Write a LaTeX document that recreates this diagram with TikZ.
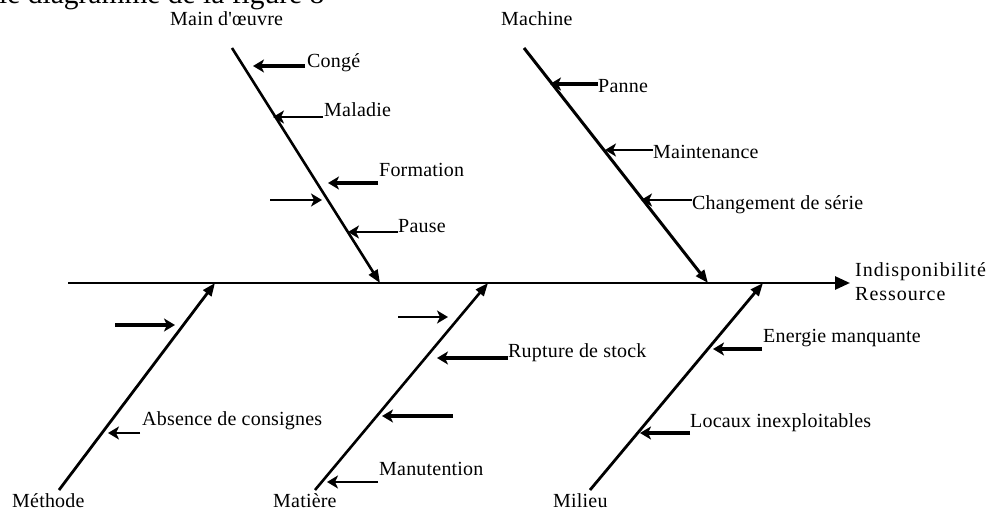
\documentclass[tikz,border=0pt]{standalone}
\usepackage{fontspec}
\setmainfont{Liberation Serif}
\newfontfamily\lblfont[LetterSpace=1]{Liberation Serif}
\newfontfamily\effectfont[LetterSpace=5]{Liberation Serif}
\usetikzlibrary{arrows.meta}
\tikzset{
  lbl/.style={font=\lblfont\fontsize{20}{23}\selectfont, inner sep=0pt, anchor=base west},
  effect/.style={font=\effectfont\fontsize{20}{23}\selectfont, inner sep=0pt, anchor=base west},
  spine/.style={line width=2.7pt, -{Triangle[length=15pt,width=13pt]}},
  bone/.style={line width=2.6pt, -{Triangle[length=13pt,width=10pt]}},
  twig/.style={-{Stealth[length=11pt,width=13pt,inset=3pt]}},
  twigthin/.style={twig, line width=1.8pt},
  twigmid/.style={twig, line width=2.5pt},
  twigbold/.style={twig, line width=3.2pt}
}
\begin{document}
\begin{tikzpicture}[x=1pt,y=-1pt]
  \useasboundingbox (0,0) rectangle (990,510);
  \clip (0,0) rectangle (990,510);
  \fill[white] (0,0) rectangle (990,510);

  % caption line running off the top edge
  \node[inner sep=0pt, anchor=base west, font=\fontsize{29.5}{32}\selectfont] (cap) at (-1,4) {le diagramme de la figure 8};

  % spine and effect
  \coordinate (s0) at (68,283);
  \coordinate (s1) at (850,283);
  \draw[spine] (s0) -- (s1);
  \node[effect] (eff1) at (855,277) {Indisponibilité};
  \node[effect] (eff2) at (855,301) {Ressource};

  % category labels
  \node[lbl] (mo)  at (170,26)  {Main d'œuvre};
  \node[lbl] (mac) at (501,26)  {Machine};
  \node[lbl] (met) at (12,507)  {Méthode};
  \node[lbl] (mat) at (273,507) {Matière};
  \node[lbl] (mil) at (553,507) {Milieu};

  % bones
  \coordinate (moA) at (232,48);  \coordinate (moB) at (380,283);
  \coordinate (macA) at (524,48); \coordinate (macB) at (708,283);
  \coordinate (metA) at (59,490); \coordinate (metB) at (215,283);
  \coordinate (matA) at (315,490); \coordinate (matB) at (488,283);
  \coordinate (milA) at (590,490); \coordinate (milB) at (763,283);
  \draw[bone] (moA) -- (moB);
  \draw[bone, line width=3pt] (macA) -- (macB);
  \draw[bone, line width=2.8pt] (metA) -- (metB);
  \draw[bone] (matA) -- (matB);
  \draw[bone, line width=2.8pt] (milA) -- (milB);

  % Main d'oeuvre causes
  \node[lbl] (conge) at (307,68) {Congé};
  \node[lbl] (mal)   at (324,117) {Maladie};
  \node[lbl] (form)  at (379,177) {Formation};
  \node[lbl] (pause) at (398,233) {Pause};
  \coordinate (c1a) at (305,66);  \coordinate (c1b) at (253,66);
  \coordinate (c2a) at (323,117); \coordinate (c2b) at (273,117);
  \coordinate (c3a) at (378,183); \coordinate (c3b) at (328,183);
  \coordinate (c4a) at (270,200); \coordinate (c4b) at (322,200);
  \coordinate (c5a) at (398,232); \coordinate (c5b) at (348,232);
  \draw[twigbold] (c1a) -- (c1b);
  \draw[twigthin] (c2a) -- (c2b);
  \draw[twigbold] (c3a) -- (c3b);
  \draw[twigthin] (c4a) -- (c4b);
  \draw[twigthin] (c5a) -- (c5b);

  % Machine causes
  \node[lbl] (panne) at (598,93)  {Panne};
  \node[lbl] (maint) at (653,159) {Maintenance};
  \node[lbl] (chg)   at (692,210) {Changement de série};
  \coordinate (m1a) at (598,84);  \coordinate (m1b) at (550,84);
  \coordinate (m2a) at (653,150); \coordinate (m2b) at (605,150);
  \coordinate (m3a) at (692,200); \coordinate (m3b) at (641,200);
  \draw[twigbold] (m1a) -- (m1b);
  \draw[twigthin] (m2a) -- (m2b);
  \draw[twigmid]  (m3a) -- (m3b);

  % Methode causes
  \node[lbl] (abs) at (142,425) {Absence de consignes};
  \coordinate (t1a) at (115,325); \coordinate (t1b) at (175,325);
  \coordinate (t2a) at (140,433); \coordinate (t2b) at (108,433);
  \draw[twigbold] (t1a) -- (t1b);
  \draw[twigmid]  (t2a) -- (t2b);

  % Matiere causes
  \node[lbl] (rupt) at (508,358) {Rupture de stock};
  \node[lbl] (manu) at (379,475) {Manutention};
  \coordinate (p1a) at (398,317); \coordinate (p1b) at (448,317);
  \coordinate (p2a) at (508,358); \coordinate (p2b) at (437,358);
  \coordinate (p3a) at (453,416); \coordinate (p3b) at (382,416);
  \coordinate (p4a) at (378,482); \coordinate (p4b) at (327,482);
  \draw[twigthin] (p1a) -- (p1b);
  \draw[twigbold] (p2a) -- (p2b);
  \draw[twigbold] (p3a) -- (p3b);
  \draw[twigmid]  (p4a) -- (p4b);

  % Milieu causes
  \node[lbl] (ener) at (763,342) {Energie manquante};
  \node[lbl] (loc)  at (690,427) {Locaux inexploitables};
  \coordinate (e1a) at (762,349); \coordinate (e1b) at (713,349);
  \coordinate (e2a) at (690,433); \coordinate (e2b) at (640,433);
  \draw[twigbold] (e1a) -- (e1b);
  \draw[twigbold] (e2a) -- (e2b);
\end{tikzpicture}
\end{document}
